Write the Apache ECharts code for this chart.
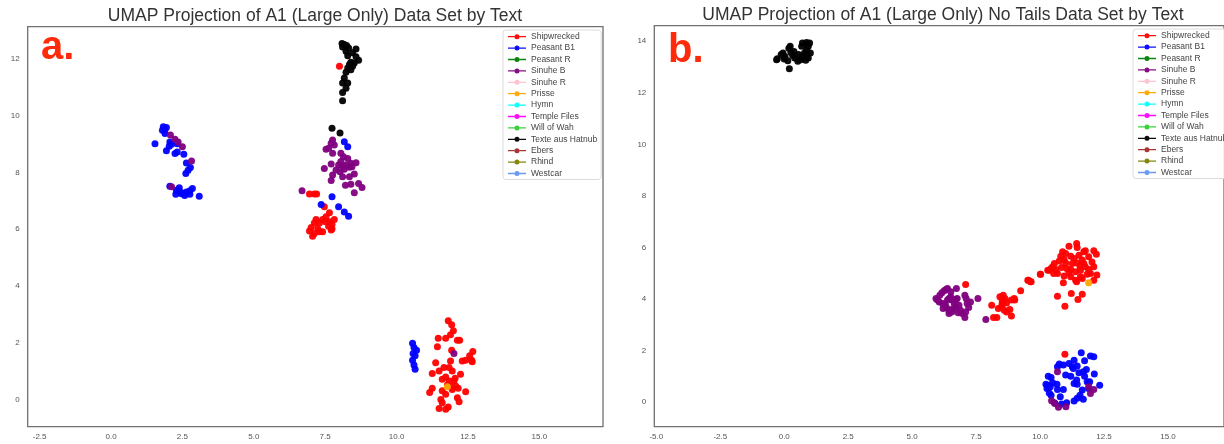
<!DOCTYPE html>
<html>
<head>
<meta charset="utf-8">
<script src="https://cdn.jsdelivr.net/npm/echarts@6/dist/echarts.min.js"></script>
<style>
  html, body { margin: 0; padding: 0; background: #fff; }
  #chart { width: 1224px; height: 444px; }
</style>
</head>
<body>
<div id="chart"></div>
<script>
// legend entries and their colours (same order as the plot legend)
var textNames = ['Shipwrecked', 'Peasant B1', 'Peasant R', 'Sinuhe B', 'Sinuhe R', 'Prisse', 'Hymn',
  'Temple Files', 'Will of Wah', 'Texte aus Hatnub', 'Ebers', 'Rhind', 'Westcar'];
var textColors = ['#ff0000', '#0000ff', '#008000', '#800080', '#ffc0cb', '#ffa500', '#00ffff',
  '#ff00ff', '#32cd32', '#000000', '#a52a2a', '#808000', '#6495ed'];

// tick labels
var xTicksA = [-2.5, 0, 2.5, 5, 7.5, 10, 12.5, 15];
var yTicksA = [0, 2, 4, 6, 8, 10, 12];
var xTicksB = [-5, -2.5, 0, 2.5, 5, 7.5, 10, 12.5, 15];
var yTicksB = [0, 2, 4, 6, 8, 10, 12, 14];

// panel a. points
var aShipwrecked = [
  [6.95,7.24],[7.12,7.24],[7.20,7.24],[7.47,6.79],[7.65,6.58],[7.53,6.44],[7.41,6.34],[7.18,6.34],
  [7.65,6.26],[7.30,6.22],[7.12,6.22],[7.82,6.34],[7.74,6.18],[7.01,6.06],[7.24,6.02],[6.95,5.94],
  [7.41,5.91],[7.71,5.97],[7.12,5.85],[7.06,5.75],[7.30,5.91],[7.51,6.26],[7.62,6.11],[7.74,6.02],
  [8.00,11.73],[1.89,9.51],
  [11.81,2.78],[11.93,2.64],[11.99,2.43],[11.89,2.29],[11.72,2.17],[11.46,2.17],[12.13,2.10],[12.21,2.10],
  [11.43,1.87],[12.67,1.70],[12.56,1.55],[12.63,1.40],[12.42,1.40],[12.30,1.37],[12.65,1.34],[11.93,1.75],
  [11.89,1.37],[11.37,1.31],[11.84,1.14],[11.49,1.02],[11.95,1.02],[11.25,0.93],[12.24,0.90],[11.72,0.81],
  [11.60,0.73],[11.84,0.67],[12.01,0.67],[12.07,0.49],[11.78,0.53],[11.95,0.37],[12.16,0.41],[12.42,0.29],
  [11.25,0.41],[11.16,0.26],[11.60,0.32],[11.72,0.20],[12.13,0.08],[12.19,-0.06],[11.55,0.02],[11.60,-0.10],
  [11.81,-0.25],[11.72,-0.33],[11.49,-0.30],[11.89,0.46],[12.05,0.76],[11.66,1.14]
];
var aPeasantB1 = [
  [1.83,9.60],[1.94,9.58],[1.80,9.48],[1.89,9.37],[1.54,9.01],[2.06,9.07],[2.12,8.99],[2.04,8.92],
  [2.32,9.01],[1.94,8.76],[2.24,8.66],[2.32,8.72],[2.55,8.64],[2.64,8.33],[2.78,8.17],[2.70,8.07],
  [2.62,7.96],[2.06,7.51],[2.29,7.37],[2.41,7.33],[2.53,7.27],[2.64,7.31],[2.76,7.35],[2.85,7.43],
  [2.27,7.23],[2.58,7.19],[2.76,7.23],[3.09,7.16],[2.39,7.46],[2.47,7.25],
  [8.17,9.08],[8.29,8.90],[7.74,7.14],[7.36,6.87],[7.97,6.79],[8.17,6.61],[8.32,6.46],
  [10.56,1.99],[10.61,1.84],[10.70,1.75],[10.58,1.63],[10.65,1.55],[10.56,1.40],[10.61,1.23],[10.65,1.08]
];
var aSinuheB = [
  [2.08,9.31],[2.24,9.16],[2.35,9.07],[2.50,8.90],[2.82,8.40],[2.12,7.49],
  [7.76,9.14],[7.71,9.02],[7.82,8.96],[7.62,8.85],[7.53,8.81],[7.76,8.67],[8.05,8.67],[8.14,8.55],
  [8.29,8.49],[8.40,8.32],[8.58,8.34],[7.71,8.29],[7.97,8.26],[8.11,8.22],[8.23,8.26],[7.47,8.14],
  [8.17,8.11],[8.35,8.18],[8.44,8.20],[7.88,8.08],[8.02,8.02],[7.76,7.91],[8.11,7.85],[8.52,7.94],
  [7.71,7.71],[8.35,7.85],[8.21,7.55],[8.40,7.58],[8.67,7.61],[8.79,7.47],[8.52,7.28],[6.69,7.35],
  [8.05,8.38],
  [12.01,1.63]
];
var aPrisse = [[11.78,0.46]];
var aHatnub = [
  [8.09,12.53],[8.17,12.49],[8.11,12.41],[8.25,12.46],[8.32,12.37],[8.58,12.34],[8.23,12.26],[8.46,12.20],
  [8.29,12.10],[8.58,12.06],[8.67,11.94],[8.52,11.84],[8.40,11.87],[8.35,11.79],[8.46,11.73],[8.29,11.67],
  [8.40,11.61],[8.23,11.52],[8.17,11.32],[8.11,11.14],[8.29,11.14],[8.23,10.96],[8.11,10.81],[8.11,10.52],
  [7.74,9.55],[8.02,9.38]
];

// panel b. points
var bShipwrecked = [
  [7.09,4.56],[8.11,3.76],[8.31,3.28],[8.18,3.28],[8.43,4.09],[8.56,4.15],[8.63,4.02],[8.52,3.83],
  [8.69,3.85],[8.88,3.96],[8.99,4.02],[9.01,3.96],[8.37,3.63],[8.60,3.57],[8.82,3.59],[8.88,3.34],
  [8.69,3.50],[8.50,3.72],[9.24,4.32],[9.52,4.73],[9.65,4.67],[10.01,4.96],[10.36,5.12],[10.49,5.25],
  [8.52,3.93],
  [11.13,6.05],[11.43,6.15],[11.45,6.00],[10.88,5.83],[10.81,5.66],[11.00,5.77],[11.20,5.66],[11.33,5.57],
  [11.52,5.70],[11.71,5.83],[11.77,5.87],[12.10,5.87],[12.20,5.74],[11.90,5.64],[11.65,5.51],[11.45,5.40],
  [11.26,5.38],[11.00,5.40],[10.75,5.48],[10.56,5.38],[10.43,5.18],[10.30,5.12],[10.62,5.15],[10.84,5.22],
  [11.04,5.18],[11.20,5.15],[11.39,5.06],[11.58,5.12],[11.77,5.25],[12.03,5.44],[12.10,5.25],[11.90,5.15],
  [12.22,4.93],[12.10,4.73],[11.84,4.96],[11.58,4.86],[11.39,4.73],[11.20,4.86],[10.94,4.89],[10.68,4.99],
  [10.53,4.99],[10.91,4.63],[11.43,4.67],[11.65,4.80],[10.02,4.96],[9.55,4.73],[9.63,4.67],[10.68,4.11],
  [11.22,4.22],[11.65,4.19],[11.48,3.98],[10.97,3.72],[10.94,5.53],[11.13,5.02],[11.71,5.38],[11.97,4.99],
  [11.56,5.27],
  [10.97,1.86]
];
var bPeasantB1 = [
  [11.61,1.92],[11.97,1.79],[12.10,1.76],[11.33,1.63],[11.13,1.50],[10.91,1.44],[10.75,1.48],[10.68,1.37],
  [11.26,1.37],[11.45,1.40],[11.74,1.61],[11.81,1.27],[11.69,1.18],[11.52,1.14],[11.30,1.31],[10.32,1.01],
  [10.43,0.96],[11.00,1.05],[11.43,0.86],[11.74,1.01],[11.94,0.79],[12.12,1.09],[12.33,0.66],[10.23,0.70],
  [10.49,0.75],[10.66,0.70],[10.40,0.60],[10.68,0.49],[10.91,0.49],[11.33,0.73],[11.45,0.70],[11.90,0.53],
  [10.43,0.27],[10.36,0.36],[10.79,0.21],[10.56,-0.02],[11.45,0.15],[11.56,0.27],[11.69,0.11],[11.33,0.05],
  [10.84,-0.07],[11.04,-0.02],[10.30,0.66],[10.27,0.53],[11.65,0.47],[11.84,0.79],[11.20,1.01]
];
var bSinuheB = [
  [5.93,4.02],[5.99,3.96],[6.08,4.15],[6.16,4.24],[6.25,4.32],[6.32,4.37],[6.38,4.41],[6.06,3.89],
  [6.19,3.83],[6.29,3.80],[6.38,3.96],[6.44,4.02],[6.51,4.09],[6.57,3.96],[6.64,3.85],[6.70,3.98],
  [6.76,4.02],[6.21,3.63],[6.34,3.67],[6.44,3.57],[6.55,3.50],[6.60,3.63],[6.70,3.70],[6.83,3.76],
  [6.89,3.57],[6.96,3.44],[7.06,3.28],[7.09,3.50],[7.15,3.83],[7.11,4.02],[7.21,3.67],[7.28,3.89],
  [6.73,4.41],[7.06,4.15],[7.57,4.02],[7.88,3.21],[6.44,3.44],[6.80,3.47],[6.51,4.28],
  [10.68,1.18],[11.90,0.60],[11.97,0.34],[12.10,0.49],[10.45,0.06],[10.72,-0.20],[11.01,-0.18],[10.58,-0.05]
];
var bPrisse = [[11.90,4.63]];
var bHatnub = [
  [-0.30,13.28],[-0.27,13.32],[-0.12,13.48],[-0.05,13.54],[0.03,13.41],[0.18,13.73],[0.23,13.80],[0.26,13.57],
  [0.33,13.44],[0.41,13.35],[0.53,13.22],[0.64,13.28],[0.71,13.41],[0.79,13.54],[0.87,13.67],[0.94,13.80],
  [0.71,13.93],[0.87,13.95],[0.99,13.93],[0.94,13.35],[0.84,13.26],[0.56,13.48],[0.38,13.60],[0.20,12.93],
  [0.14,13.24],[0.00,13.31],[0.87,13.48],[1.02,13.54],[0.68,13.80]
];

var panelA = { 'Shipwrecked': aShipwrecked, 'Peasant B1': aPeasantB1, 'Sinuhe B': aSinuheB, 'Prisse': aPrisse, 'Texte aus Hatnub': aHatnub };
var panelB = { 'Shipwrecked': bShipwrecked, 'Peasant B1': bPeasantB1, 'Sinuhe B': bSinuheB, 'Prisse': bPrisse, 'Texte aus Hatnub': bHatnub };

var FONT = '"Liberation Sans", Arial, sans-serif';
// matplotlib style legend handle: short line with a dot in the middle
var lineDot = 'path://M0,4.3L7.3,4.3L7.3,5.7L0,5.7Z M12.7,4.3L20,4.3L20,5.7L12.7,5.7Z M7.2,5a2.8,2.8 0 1,0 5.6,0a2.8,2.8 0 1,0 -5.6,0Z';

function makeSeries(idx, panel) {
	return textNames.map(function(n, i) {
		return {
			name: n,
			type: 'scatter',
			xAxisIndex: idx,
			yAxisIndex: idx,
			data: panel[n] || [],
			symbolSize: 7,
			itemStyle: { color: textColors[i], opacity: 0.95 },
			emphasis: { disabled: true },
			silent: true
		};
	});
}

function makeX(idx, min, max, ticks) {
	return {
		gridIndex: idx, type: 'value', min: min, max: max,
		axisLine: { show: false }, axisTick: { show: false }, splitLine: { show: false },
		axisLabel: { customValues: ticks, formatter: function(v) { return v.toFixed(1); },
			fontSize: 8, color: '#555', margin: 6, fontFamily: FONT }
	};
}
function makeY(idx, min, max, ticks) {
	return {
		gridIndex: idx, type: 'value', min: min, max: max,
		axisLine: { show: false }, axisTick: { show: false }, splitLine: { show: false },
		axisLabel: { customValues: ticks, formatter: function(v) { return String(v); },
			fontSize: 8, color: '#555', margin: 8, fontFamily: FONT }
	};
}
function makeLegend(left, top) {
	return {
		orient: 'vertical', left: left, top: top,
		padding: [2.2, 4, 1.5, 5],
		itemWidth: 18, itemHeight: 6, itemGap: 2.4,
		icon: lineDot,
		selectedMode: false,
		data: textNames,
		textStyle: { fontSize: 8.5, lineHeight: 9, color: '#444', fontFamily: FONT },
		borderColor: '#dcdcdc', borderWidth: 1, borderRadius: 3,
		backgroundColor: 'rgba(255,255,255,0.85)'
	};
}

var myChart = echarts.init(document.getElementById('chart'), null, { renderer: 'canvas' });
var option = {
	backgroundColor: '#fff',
	animation: false,
	grid: [
		{ left: 27.7, top: 26.7, width: 575.3, height: 400, show: true, borderColor: '#707070', borderWidth: 1.3, backgroundColor: '#fff' },
		{ left: 654.3, top: 25.7, width: 578, height: 401, show: true, borderColor: '#707070', borderWidth: 1.3, backgroundColor: '#fff' }
	],
	xAxis: [makeX(0, -2.918, 17.23, xTicksA), makeX(1, -5.08, 17.19, xTicksB)],
	yAxis: [makeY(0, -0.94, 13.12, yTicksA), makeY(1, -0.95, 14.6, yTicksB)],
	legend: [makeLegend(503, 30), makeLegend(1133, 29)],
	series: makeSeries(0, panelA).concat(makeSeries(1, panelB)),
	graphic: [
		{ type: 'text', x: 315, y: 15.8, style: { text: 'UMAP Projection of A1 (Large Only) Data Set by Text',
			align: 'center', verticalAlign: 'middle', fill: '#333', font: '17.5px ' + FONT } },
		{ type: 'text', x: 943, y: 15, style: { text: 'UMAP Projection of A1 (Large Only) No Tails Data Set by Text',
			align: 'center', verticalAlign: 'middle', fill: '#333', font: '17.5px ' + FONT } },
		{ type: 'text', x: 41, y: 48, z: 10, style: { text: 'a.', align: 'left', verticalAlign: 'middle',
			fill: '#ff2a0a', font: 'bold 40px ' + FONT } },
		{ type: 'text', x: 668, y: 51, z: 10, style: { text: 'b.', align: 'left', verticalAlign: 'middle',
			fill: '#ff2a0a', font: 'bold 40px ' + FONT } }
	]
};
myChart.setOption(option);
</script>
</body>
</html>
